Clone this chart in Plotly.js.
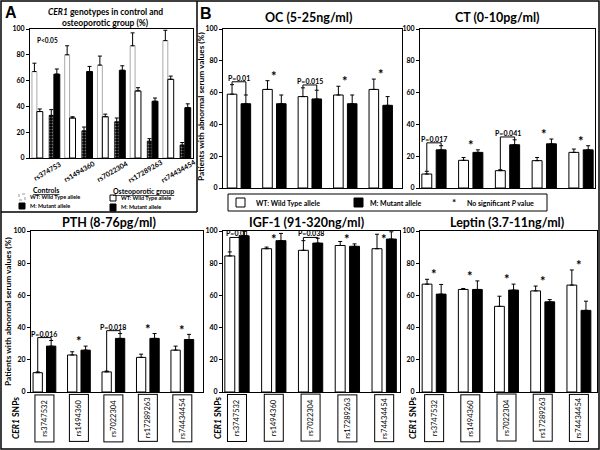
<!DOCTYPE html>
<html><head><meta charset="utf-8">
<script src="https://cdn.plot.ly/plotly-3.0.1.min.js"></script>
<style>body{margin:0;padding:0;background:#fff}#chart{width:600px;height:450px}</style>
</head><body><div id="chart"></div>
<script>
// ---------- DATA ----------
const snpsA = ['rs374753','rs1494360','rs7022304','rs17289263','rs74434454'];
const snpsB = ['rs3747532','rs1494360','rs7022304','rs17289263','rs74434454'];

// Panel A: CER1 genotypes (%)
const ctrlWT = [67, 80, 72, 87, 91];
const ctrlWTErr = [6.5, 7, 7, 10, 8];
const opWT = [36, 31, 32, 52, 61];
const opWTErr = [2, 1, 2, 2.5, 2.5];
const ctrlM = [33, 21, 28, 13, 10];
const ctrlMErr = [4.5, 3, 3, 2, 2];
const opM = [65, 67, 68, 44, 39];
const opMErr = [4, 4, 3.5, 2.5, 3];

// Panel B: patients with abnormal serum values (%)
const ocWT = [59, 62, 57.5, 58.5, 62];
const ocWTErr = [6, 5.5, 5.5, 5.5, 6.5];
const ocM = [53, 53, 56, 53, 52];
const ocMErr = [5.5, 5.5, 5.5, 5.5, 5.5];
const ocP = ['P=0.01', null, 'P=0.015', null, null];

const ctWT = [8.8, 17.4, 10.9, 17.2, 22.4];
const ctWTErr = [1.7, 1.8, 0.6, 2, 2.1];
const ctM = [24, 22.4, 27.2, 27.8, 24];
const ctMErr = [2.6, 1.6, 3.1, 3, 2.6];
const ctP = ['P=0.017', null, 'P=0.041', null, null];

const pthWT = [12, 23, 12.5, 21.5, 26];
const pthWTErr = [0.5, 2, 0.5, 2, 2.5];
const pthM = [28.5, 26, 33.3, 33.3, 32.6];
const pthMErr = [3.5, 2.5, 3, 3, 3.2];
const pthP = ['P=0.016', null, 'P=0.018', null, null];

const igfWT = [84.5, 89, 88, 91, 89];
const igfWTErr = [2.5, 1, 6, 2.5, 9];
const igfM = [97, 94, 92.5, 90.5, 95];
const igfMErr = [3, 4.5, 3, 1.5, 4.5];
const igfP = ['P=0.01', null, 'P=0.038', null, null];

const lepWT = [67, 63.7, 53.2, 62.8, 66.4];
const lepWTErr = [3, 0.6, 6.3, 3, 9.4];
const lepM = [60.8, 63.7, 63.3, 56, 50.7];
const lepMErr = [6, 5.3, 3.7, 1.4, 5.7];
const lepP = [null, null, null, null, null];

// ---------- HELPERS ----------
const W = 600, H = 450;
const px = v => v / W;
const py = v => 1 - v / H;
const FONT = 'Lato, "Open Sans", Arial, sans-serif';
const zeros = n => new Array(n).fill(0);

function errSpec(arr) {
  return {type: 'data', symmetric: false, array: arr, arrayminus: zeros(arr.length),
          color: '#000', thickness: 1, width: 2};
}

const traces = [];
const shapes = [];
const annotations = [];

function ann(o) {
  annotations.push(Object.assign({showarrow: false, xanchor: 'center', yanchor: 'middle',
    font: {family: FONT, size: 8, color: '#000', weight: 'bold'}}, o));
}

// Panel A traces
traces.push({type: 'bar', x: snpsA, y: ctrlWT, xaxis: 'x', yaxis: 'y', offset: -0.42, width: 0.15,
  marker: {color: '#fff', line: {color: '#aaa', width: 1}}, error_y: errSpec(ctrlWTErr), showlegend: false, hoverinfo: 'none'});
traces.push({type: 'bar', x: snpsA, y: opWT, xaxis: 'x', yaxis: 'y', offset: -0.27, width: 0.18,
  marker: {color: '#fff', line: {color: '#000', width: 1}}, error_y: errSpec(opWTErr), showlegend: false, hoverinfo: 'none'});
traces.push({type: 'bar', x: snpsA, y: ctrlM, xaxis: 'x', yaxis: 'y', offset: 0.10, width: 0.14,
  marker: {color: '#000', line: {color: '#000', width: 0.5}, pattern: {shape: '.', fgcolor: '#777', bgcolor: '#000', size: 3, solidity: 0.3}},
  error_y: errSpec(ctrlMErr), showlegend: false, hoverinfo: 'none'});
traces.push({type: 'bar', x: snpsA, y: opM, xaxis: 'x', yaxis: 'y', offset: 0.25, width: 0.18,
  marker: {color: '#000', line: {color: '#000', width: 1}}, error_y: errSpec(opMErr), showlegend: false, hoverinfo: 'none'});

// Panel B helper
function pairPanel(n, wt, wtErr, m, mErr, pTexts) {
  const xa = 'x' + n, ya = 'y' + n;
  traces.push({type: 'bar', x: snpsB, y: wt, xaxis: xa, yaxis: ya, offset: -0.33, width: 0.27,
    marker: {color: '#fff', line: {color: '#000', width: 1}}, error_y: errSpec(wtErr), showlegend: false, hoverinfo: 'none'});
  traces.push({type: 'bar', x: snpsB, y: m, xaxis: xa, yaxis: ya, offset: 0.06, width: 0.27,
    marker: {color: '#000', line: {color: '#000', width: 1}}, error_y: errSpec(mErr), showlegend: false, hoverinfo: 'none'});
  for (let i = 0; i < snpsB.length; i++) {
    const tW = wt[i] + wtErr[i], tM = m[i] + mErr[i];
    const top = Math.max(tW, tM);
    if (pTexts[i]) {
      const by = Math.min(top + 1.8, 96);
      const l = {color: '#000', width: 1};
      shapes.push({type: 'line', xref: xa, yref: ya, x0: i - 0.195, x1: i + 0.195, y0: by, y1: by, line: l});
      shapes.push({type: 'line', xref: xa, yref: ya, x0: i - 0.195, x1: i - 0.195, y0: tW, y1: by, line: l});
      shapes.push({type: 'line', xref: xa, yref: ya, x0: i + 0.195, x1: i + 0.195, y0: tM, y1: by, line: l});
      ann({xref: xa, yref: ya, x: i, y: by, yanchor: 'bottom', text: pTexts[i], font: {family: FONT, size: 7, color: '#000', weight: 'bold'}, yshift: -2});
    } else {
      ann({xref: xa, yref: ya, x: i, y: Math.min(top + 3, 95), text: '*', font: {family: FONT, size: 13, color: '#000', weight: 'bold'}});
    }
  }
}
pairPanel(2, ocWT, ocWTErr, ocM, ocMErr, ocP);
pairPanel(3, ctWT, ctWTErr, ctM, ctMErr, ctP);
pairPanel(4, pthWT, pthWTErr, pthM, pthMErr, pthP);
pairPanel(5, igfWT, igfWTErr, igfM, igfMErr, igfP);
pairPanel(6, lepWT, lepWTErr, lepM, lepMErr, lepP);

// ---------- AXES ----------
function xax(d0, d1, r, anchor) {
  return {domain: [px(d0), px(d1)], range: r, anchor: anchor, type: 'category',
    showticklabels: false, ticks: '', showline: true, linecolor: '#000', linewidth: 1, mirror: true,
    showgrid: false, zeroline: false, fixedrange: true};
}
function yax(top, bottom, anchor, fs) {
  return {domain: [py(bottom), py(top)], range: [0, 100], anchor: anchor, tickvals: [0, 20, 40, 60, 80, 100],
    ticks: 'outside', ticklen: 3, tickcolor: '#000', showline: true, linecolor: '#000', linewidth: 1, mirror: true,
    showgrid: false, zeroline: false, tickfont: {family: FONT, size: fs, color: '#000', weight: 'bold'}, fixedrange: true};
}

const layout = {
  width: W, height: H, margin: {l: 0, r: 0, t: 0, b: 0}, paper_bgcolor: '#fff', plot_bgcolor: '#fff',
  showlegend: false, barmode: 'overlay',
  xaxis: xax(30, 193, [-0.48, 4.5], 'y'),
  yaxis: yax(29, 158, 'x', 7),
  xaxis2: xax(223, 402, [-0.45, 4.6], 'y2'),
  yaxis2: yax(29, 188, 'x2', 7),
  xaxis3: xax(420, 595, [-0.38, 4.38], 'y3'),
  yaxis3: yax(29, 188, 'x3', 7),
  xaxis4: xax(31, 203, [-0.39, 4.6], 'y4'),
  yaxis4: yax(231, 392, 'x4', 7),
  xaxis5: xax(223, 400, [-0.38, 4.43], 'y5'),
  yaxis5: yax(231, 392, 'x5', 7),
  xaxis6: xax(420, 597, [-0.39, 4.5], 'y6'),
  yaxis6: yax(231, 392, 'x6', 7),
  shapes: shapes, annotations: annotations
};

// ---------- FRAMES ----------
const fl = {color: '#000', width: 1.5};
shapes.push({type: 'rect', xref: 'paper', yref: 'paper', x0: px(1), x1: px(599), y0: py(449), y1: py(1), line: fl});
shapes.push({type: 'line', xref: 'paper', yref: 'paper', x0: px(197), x1: px(197), y0: py(1), y1: py(212), line: fl});
shapes.push({type: 'line', xref: 'paper', yref: 'paper', x0: px(1), x1: px(197), y0: py(212), y1: py(212), line: fl});

// ---------- PANEL A TEXT ----------
ann({xref: 'paper', yref: 'paper', x: px(11), y: py(13), text: 'A', font: {family: 'Liberation Sans, Arial', size: 16, color: '#000', weight: 'bold'}});
ann({xref: 'paper', yref: 'paper', x: px(105), y: py(12), text: '<i>CER1</i> genotypes in control and', font: {family: FONT, size: 8.5, color: '#000', weight: 'bold'}});
ann({xref: 'paper', yref: 'paper', x: px(105), y: py(23), text: 'osteoporotic group (%)', font: {family: FONT, size: 8.5, color: '#000', weight: 'bold'}});
ann({xref: 'paper', yref: 'paper', x: px(47), y: py(40), text: 'P<0.05', font: {family: FONT, size: 6.5, color: '#000', weight: 'bold'}});
snpsA.forEach(s => ann({xref: 'x', yref: 'paper', x: s, y: py(171), xshift: 1, textangle: -30, text: s, font: {family: FONT, size: 7, color: '#000', weight: 'bold'}}));

// Panel A legend
ann({xref: 'paper', yref: 'paper', x: px(46), y: py(190), text: '<u>Controls</u>', font: {family: FONT, size: 7, color: '#000', weight: 'bold'}});
ann({xref: 'paper', yref: 'paper', x: px(143), y: py(191), text: '<u>Osteoporotic group</u>', font: {family: FONT, size: 7, color: '#000', weight: 'bold'}});
shapes.push({type: 'rect', xref: 'paper', yref: 'paper', x0: px(19), x1: px(25), y0: py(200), y1: py(194), fillcolor: '#fff', line: {color: '#999', width: 1, dash: 'dot'}});
shapes.push({type: 'rect', xref: 'paper', yref: 'paper', x0: px(19), x1: px(25), y0: py(209), y1: py(203), fillcolor: '#000', line: {color: '#000', width: 1}});
shapes.push({type: 'rect', xref: 'paper', yref: 'paper', x0: px(110), x1: px(116), y0: py(201), y1: py(195), fillcolor: '#fff', line: {color: '#000', width: 1}});
shapes.push({type: 'rect', xref: 'paper', yref: 'paper', x0: px(110), x1: px(116), y0: py(211), y1: py(204), fillcolor: '#000', line: {color: '#000', width: 1}});
const legSmall = {family: FONT, size: 5.5, color: '#000', weight: 'bold'};
ann({xref: 'paper', yref: 'paper', x: px(28), y: py(197), xanchor: 'left', text: 'WT: Wild Type allele', font: legSmall});
ann({xref: 'paper', yref: 'paper', x: px(28), y: py(206), xanchor: 'left', text: 'M: Mutant allele', font: legSmall});
ann({xref: 'paper', yref: 'paper', x: px(119), y: py(198), xanchor: 'left', text: 'WT: Wild Type allele', font: legSmall});
ann({xref: 'paper', yref: 'paper', x: px(119), y: py(207), xanchor: 'left', text: 'M: Mutant allele', font: legSmall});

// ---------- PANEL B TEXT ----------
ann({xref: 'paper', yref: 'paper', x: px(206), y: py(14), text: 'B', font: {family: 'Liberation Sans, Arial', size: 16, color: '#000', weight: 'bold'}});
const titleFont = {family: FONT, size: 12.5, color: '#000', weight: 'bold'};
ann({xref: 'paper', yref: 'paper', x: px(308), y: py(17), text: 'OC (5-25ng/ml)', font: titleFont});
ann({xref: 'paper', yref: 'paper', x: px(497), y: py(17), text: 'CT (0-10pg/ml)', font: titleFont});
ann({xref: 'paper', yref: 'paper', x: px(109), y: py(222), text: 'PTH (8-76pg/ml)', font: titleFont});
ann({xref: 'paper', yref: 'paper', x: px(306), y: py(222), text: 'IGF-1 (91-320ng/ml)', font: titleFont});
ann({xref: 'paper', yref: 'paper', x: px(507), y: py(222), text: 'Leptin (3.7-11ng/ml)', font: titleFont});
const ylabFont = {family: FONT, size: 8.3, color: '#000', weight: 'bold'};
ann({xref: 'paper', yref: 'paper', x: px(201), y: py(107), textangle: -90, text: 'Patients with abnormal serum values (%)', font: ylabFont});
ann({xref: 'paper', yref: 'paper', x: px(8), y: py(312), textangle: -90, text: 'Patients with abnormal serum values (%)', font: ylabFont});

// Panel B legend
shapes.push({type: 'rect', xref: 'paper', yref: 'paper', x0: px(228), x1: px(547), y0: py(211), y1: py(194), line: {color: '#000', width: 1}});
shapes.push({type: 'rect', xref: 'paper', yref: 'paper', x0: px(236), x1: px(245), y0: py(207), y1: py(198), fillcolor: '#fff', line: {color: '#000', width: 1}});
shapes.push({type: 'rect', xref: 'paper', yref: 'paper', x0: px(354), x1: px(363), y0: py(207), y1: py(198), fillcolor: '#000', line: {color: '#000', width: 1}});
const legB = {family: FONT, size: 7, color: '#000', weight: 'bold'};
ann({xref: 'paper', yref: 'paper', x: px(254), y: py(203), xanchor: 'left', text: 'WT: Wild Type allele', font: legB});
ann({xref: 'paper', yref: 'paper', x: px(368), y: py(203), xanchor: 'left', text: 'M: Mutant allele', font: legB});
ann({xref: 'paper', yref: 'paper', x: px(454), y: py(202), text: '*', font: {family: FONT, size: 10, color: '#000', weight: 'bold'}});
ann({xref: 'paper', yref: 'paper', x: px(465), y: py(203), xanchor: 'left', text: 'No significant <i>P</i> value', font: legB});

// SNP boxes under bottom row
[['x4', 16], ['x5', 218], ['x6', 413]].forEach(([xa, lx]) => {
  ann({xref: 'paper', yref: 'paper', x: px(lx), y: py(418), textangle: -90, text: '<i>CER1</i> SNPs', font: {family: FONT, size: 8.5, color: '#000', weight: 'bold'}});
  snpsB.forEach(s => ann({xref: xa, yref: 'paper', x: s, y: py(418), textangle: -90, text: s,
    width: 44, height: 16, bordercolor: '#000', borderwidth: 1, borderpad: 1, bgcolor: '#fff',
    font: {family: FONT, size: 7.5, color: '#000'}}));
});

Plotly.newPlot('chart', traces, layout, {staticPlot: true, displayModeBar: false});
</script>
</body></html>
